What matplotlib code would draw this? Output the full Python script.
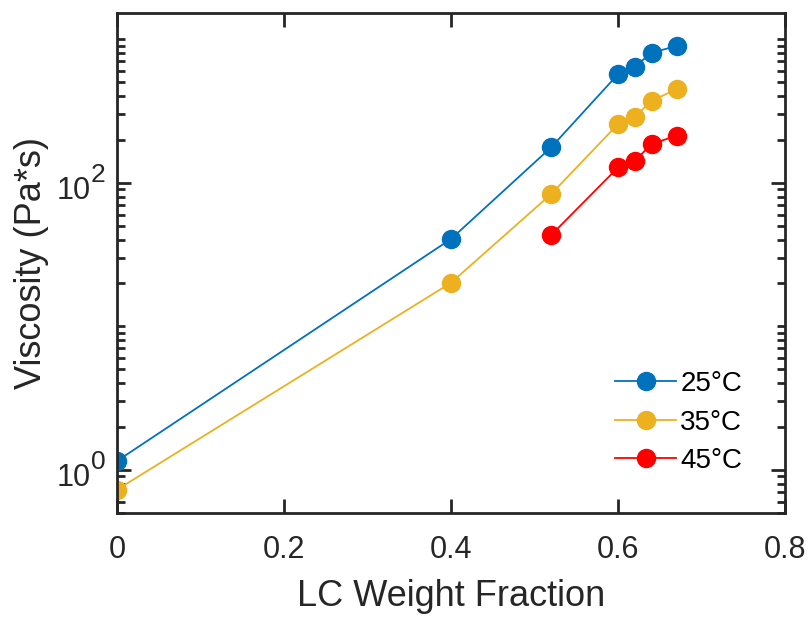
import numpy as np
import matplotlib
matplotlib.use("Agg")
import matplotlib.pyplot as plt
from matplotlib.ticker import LogLocator, FixedLocator, NullFormatter

plt.rcParams['font.family'] = ['Liberation Sans', 'DejaVu Sans']

# данные
x25 = [0, 0.4, 0.52, 0.6, 0.62, 0.64, 0.67]
y25 = [1.15, 40.6, 177, 572, 644, 806, 897]
x35 = [0, 0.4, 0.52, 0.6, 0.62, 0.64, 0.67]
y35 = [0.726, 20.1, 83.6, 257, 289, 371, 450]
x45 = [0.52, 0.6, 0.62, 0.64, 0.67]
y45 = [43.3, 128, 142, 186, 213]
labels = ['25°C', '35°C', '45°C']
colors = ['#0072BD', '#EDB120', '#FF0000']
yticks = [1, 100]
yexp = ['0', '2']

dark = '#262626'
fig = plt.figure(figsize=(8.12, 6.17), dpi=100)
ax = fig.add_axes([0.144, 0.1686, 0.823, 0.8104])

for xs, ys, lab, c in zip([x25, x35, x45], [y25, y35, y45], labels, colors):
    ax.plot(xs, ys, '-o', color=c, lw=1.3, ms=13, label=lab)

ax.set_yscale('log')
ax.set_xlim(0, 0.8)
ax.set_ylim(0.5, 1525)
ax.set_xticks([0, 0.2, 0.4, 0.6, 0.8])
ax.set_xticklabels(['0', '0.2', '0.4', '0.6', '0.8'])
ax.yaxis.set_major_locator(FixedLocator(yticks))
ax.yaxis.set_minor_locator(LogLocator(base=10, subs=np.arange(1, 10), numticks=20))
ax.yaxis.set_minor_formatter(NullFormatter())
ax.set_yticklabels(['', ''])

# подписи 10^n вручную (крупный показатель как в MATLAB)
for v, e in zip(yticks, yexp):
    ax.annotate('10', xy=(0, v), xycoords=('axes fraction', 'data'),
                xytext=(-26, -8), textcoords='offset pixels',
                ha='right', va='center', fontsize=22, color=dark)
    ax.annotate(e, xy=(0, v), xycoords=('axes fraction', 'data'),
                xytext=(-26, 8), textcoords='offset pixels',
                ha='left', va='center', fontsize=19, color=dark)

ax.tick_params(which='both', direction='in', top=True, right=True, labelsize=22, colors=dark, width=2)
ax.tick_params(axis='x', which='major', length=10, pad=16)
ax.tick_params(axis='y', which='major', length=10)
ax.tick_params(which='minor', length=6)
ax.tick_params(axis='x', which='minor', bottom=False, top=False)
for s in ax.spines.values():
    s.set_linewidth(2)
    s.set_color(dark)

ax.set_xlabel('LC Weight Fraction', fontsize=26, color=dark, labelpad=10)
fig.text(32 / 812, 1 - 263 / 617, 'Viscosity (Pa*s)', rotation=90, ha='center', va='center',
         fontsize=26, color=dark)

leg = ax.legend(loc='upper left', frameon=False, fontsize=20, handlelength=2.2,
                bbox_to_anchor=(615 / 812, 1 - 371 / 617), bbox_transform=fig.transFigure,
                borderpad=0, borderaxespad=0, labelspacing=0.45, handletextpad=0.15)
for t in leg.get_texts():
    t.set_color('black')

fig.savefig('out.png', dpi=100)
